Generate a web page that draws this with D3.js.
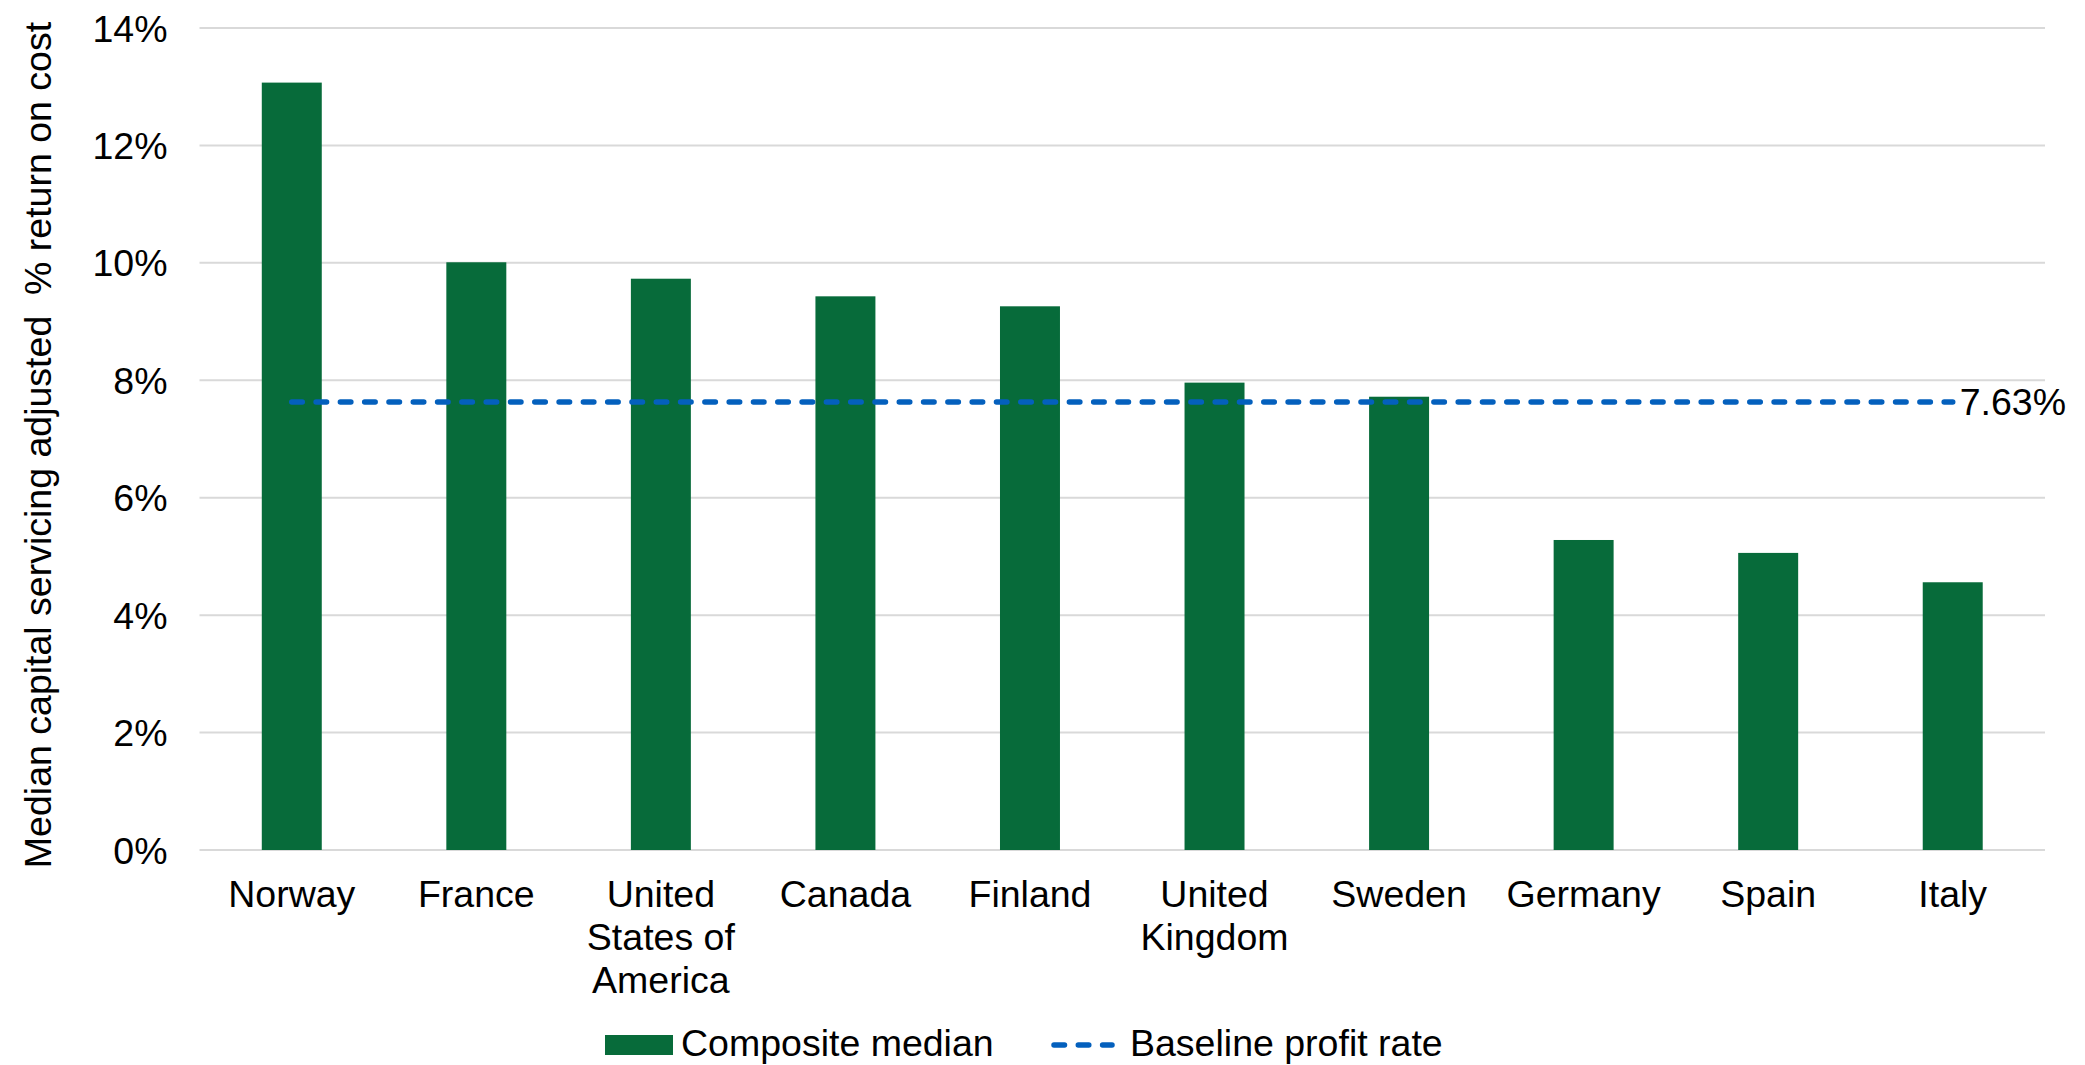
<!DOCTYPE html>
<html>
<head>
<meta charset="utf-8">
<script src="https://cdn.jsdelivr.net/npm/d3@7/dist/d3.min.js"></script>
<style>
  html, body { margin: 0; padding: 0; background: #fff; }
  svg { display: block; }
  text { font-family: "Liberation Sans", Arial, sans-serif; fill: #000; }
</style>
</head>
<body>
<svg id="chart" width="2085" height="1065"></svg>
<script>
const categories = ["Norway", "France", "United States of America", "Canada", "Finland",
                    "United Kingdom", "Sweden", "Germany", "Spain", "Italy"];
const categoryLines = [["Norway"], ["France"], ["United", "States of", "America"], ["Canada"], ["Finland"],
                       ["United", "Kingdom"], ["Sweden"], ["Germany"], ["Spain"], ["Italy"]];
const compositeMedian = [13.07, 10.01, 9.73, 9.43, 9.26, 7.96, 7.72, 5.28, 5.06, 4.56];
const baselineProfitRate = 7.63;
const yTicks = [0, 2, 4, 6, 8, 10, 12, 14];
const seriesNames = ["Composite median", "Baseline profit rate"];
const yTitle = "Median capital servicing adjusted\u00A0 % return on cost";

const W = 2085, H = 1065;
const m = { left: 199.5, right: 40, top: 28, bottom: 215 };
const plotBottom = H - m.bottom;
const FS = 37.5;
const green = "#076b3a", blue = "#0460bd";

const svg = d3.select("#chart");

const x = d3.scaleBand().domain(categories).range([m.left, W - m.right])
  .paddingInner(0.675).paddingOuter(0.3375);
const y = d3.scaleLinear().domain([0, 14]).range([plotBottom, m.top]);

// gridlines
svg.append("g").selectAll("line").data(yTicks).join("line")
  .attr("x1", m.left).attr("x2", W - m.right)
  .attr("y1", d => y(d)).attr("y2", d => y(d))
  .attr("stroke", "#d9d9d9").attr("stroke-width", 2);

// y axis labels
const yAxis = d3.axisLeft(y).tickValues(yTicks).tickFormat(d => d + "%").tickSize(0).tickPadding(0);
const gy = svg.append("g").attr("transform", `translate(${m.left - 32},0)`).call(yAxis);
gy.select(".domain").remove();
gy.selectAll("text").style("font-size", FS + "px").attr("fill", "#000")
  .style("font-family", '"Liberation Sans", Arial, sans-serif').attr("dy", "0.35em");

// bars
svg.append("g").selectAll("rect").data(categories).join("rect")
  .attr("x", d => x(d)).attr("width", x.bandwidth())
  .attr("y", (d, i) => y(compositeMedian[i]))
  .attr("height", (d, i) => y(0) - y(compositeMedian[i]))
  .attr("fill", green);

// baseline line
const x0 = x(categories[0]) + x.bandwidth() / 2;
const x1 = x(categories[categories.length - 1]) + x.bandwidth() / 2;
svg.append("line")
  .attr("x1", x0).attr("x2", x1)
  .attr("y1", y(baselineProfitRate)).attr("y2", y(baselineProfitRate))
  .attr("stroke", blue).attr("stroke-width", 5.5)
  .attr("stroke-linecap", "round").attr("stroke-dasharray", "10.5,13.8");
svg.append("text")
  .attr("x", x1 + 7).attr("y", y(baselineProfitRate)).attr("dy", "0.35em")
  .style("font-size", FS + "px").text(baselineProfitRate.toFixed(2) + "%");

// x axis labels
const gx = svg.append("g");
categories.forEach((c, i) => {
  const t = gx.append("text")
    .attr("x", x(c) + x.bandwidth() / 2).attr("y", plotBottom + 57)
    .attr("text-anchor", "middle").style("font-size", FS + "px");
  categoryLines[i].forEach((ln, j) => {
    t.append("tspan").attr("x", x(c) + x.bandwidth() / 2).attr("dy", j === 0 ? 0 : 43).text(ln);
  });
});

// y title
svg.append("text")
  .attr("transform", `translate(51,${(y(0) + y(14)) / 2 + 6}) rotate(-90)`)
  .attr("text-anchor", "middle").style("font-size", FS + "px")
  .text(yTitle);

// legend
const lg = svg.append("g");
lg.append("rect").attr("x", 605).attr("y", 1035).attr("width", 68).attr("height", 20).attr("fill", green);
lg.append("text").attr("x", 681).attr("y", 1043).attr("dy", "0.35em").style("font-size", FS + "px").text(seriesNames[0]);
lg.append("line").attr("x1", 1054).attr("x2", 1112).attr("y1", 1045).attr("y2", 1045)
  .attr("stroke", blue).attr("stroke-width", 5.5).attr("stroke-linecap", "round")
  .attr("stroke-dasharray", "10.5,13.8");
lg.append("text").attr("x", 1130).attr("y", 1043).attr("dy", "0.35em").style("font-size", FS + "px").text(seriesNames[1]);
</script>
</body>
</html>
